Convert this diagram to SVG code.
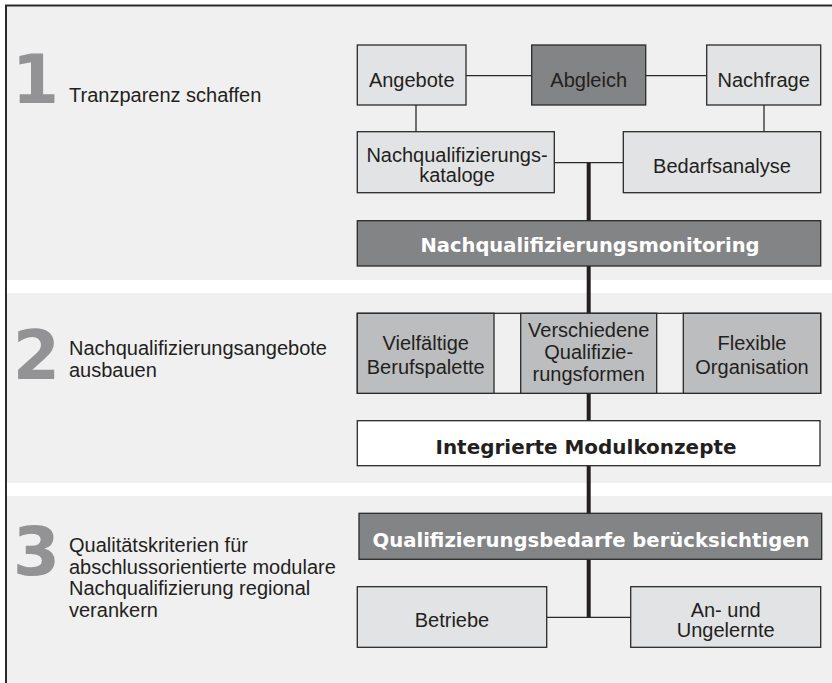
<svg xmlns="http://www.w3.org/2000/svg" width="832" height="683" viewBox="0 0 832 683">
<style>
.bg{fill:#f0f0f0}
.lt{fill:#e2e3e4;stroke:#2a2a2a;stroke-width:1.3}
.md{fill:#bcbdbf;stroke:#2a2a2a;stroke-width:1.3}
.dk{fill:#838486;stroke:#2a2a2a;stroke-width:1.3}
.wh{fill:#ffffff;stroke:#2a2a2a;stroke-width:1.3}
.t{font-family:"Liberation Sans",Arial,sans-serif;font-size:20px;fill:#231f20}
.c{text-anchor:middle}
.b{font-family:"DejaVu Sans",sans-serif;font-weight:bold;font-size:19.5px;text-anchor:middle}
.num{font-family:"DejaVu Sans",sans-serif;font-weight:bold;font-size:68px;fill:#939395;text-anchor:end}
.thin{stroke:#2a2a2a;stroke-width:1.3;fill:none}
.thick{stroke:#231f20;stroke-width:4;fill:none}
</style>
<rect x="0" y="0" width="832" height="683" fill="#ffffff"/>
<rect class="bg" x="6" y="6" width="830" height="274"/>
<rect class="bg" x="6" y="293" width="830" height="190"/>
<rect class="bg" x="6" y="496" width="830" height="190"/>
<path d="M6 690 V5.5 H840" fill="none" stroke="#2a2a2a" stroke-width="2"/>

<g id="labels">
<g id="step1">
<text class="num" x="59" y="103">1</text>
<text class="t" x="69" y="102">Tranzparenz schaffen</text>
</g>
<g id="step2">
<text class="num" x="60" y="379">2</text>
<text class="t" x="69" y="355">Nachqualifizierungsangebote</text>
<text class="t" x="69" y="376.5">ausbauen</text>
</g>
<g id="step3">
<text class="num" x="60" y="575">3</text>
<text class="t" x="69" y="552">Qualitätskriterien für</text>
<text class="t" x="69" y="573.5">abschlussorientierte modulare</text>
<text class="t" x="69" y="595">Nachqualifizierung regional</text>
<text class="t" x="69" y="616.5">verankern</text>
</g>
</g>

<g id="connectors">
<line class="thin" x1="466" y1="75.7" x2="531.7" y2="75.7"/>
<line class="thin" x1="645.7" y1="75.7" x2="706.7" y2="75.7"/>
<line class="thin" x1="416" y1="105" x2="416" y2="131.7"/>
<line class="thin" x1="764" y1="105" x2="764" y2="131.7"/>
<line class="thin" x1="554.3" y1="162.7" x2="623.3" y2="162.7"/>
<line class="thin" x1="546.7" y1="617.3" x2="630.7" y2="617.3"/>
<line class="thick" x1="588.7" y1="162.7" x2="588.7" y2="617.3"/>
</g>

<g id="angebote"><rect class="lt" x="357.3" y="45" width="108.7" height="60"/><text class="t c" x="411.7" y="86.7">Angebote</text></g>
<g id="abgleich"><rect class="dk" x="531.7" y="45" width="114" height="60"/><text class="t c" x="588.7" y="86.7">Abgleich</text></g>
<g id="nachfrage"><rect class="lt" x="706.7" y="45" width="114" height="60"/><text class="t c" x="763.7" y="86.7">Nachfrage</text></g>
<g id="kataloge"><rect class="lt" x="357.3" y="131.7" width="197" height="61"/><text class="t c" x="457" y="161.7">Nachqualifizierungs-</text><text class="t c" x="457" y="181.7">kataloge</text></g>
<g id="bedarfsanalyse"><rect class="lt" x="623.3" y="131.7" width="197.4" height="61"/><text class="t c" x="722" y="172.7">Bedarfsanalyse</text></g>
<g id="monitoring"><rect class="dk" x="357.3" y="220.7" width="463.4" height="45.3"/><text class="b" x="590" y="251.5" fill="#ffffff" textLength="339" lengthAdjust="spacingAndGlyphs">Nachqualifizierungsmonitoring</text></g>

<g id="row2">
<rect class="bg" x="357.3" y="313.3" width="463.4" height="80" stroke="#2a2a2a" stroke-width="1.3"/>
<line class="thick" x1="588.7" y1="313.3" x2="588.7" y2="393.3"/>
</g>
<g id="vielfaeltige"><rect class="md" x="357.3" y="313.3" width="136.7" height="80"/><text class="t c" x="425.7" y="350">Vielfältige</text><text class="t c" x="425.7" y="374">Berufspalette</text></g>
<g id="verschiedene"><rect class="md" x="520.7" y="313.3" width="136" height="80"/><text class="t c" x="588.7" y="337">Verschiedene</text><text class="t c" x="588.7" y="359">Qualifizie-</text><text class="t c" x="588.7" y="380.5">rungsformen</text></g>
<g id="flexible"><rect class="md" x="683.3" y="313.3" width="137.4" height="80"/><text class="t c" x="752" y="350">Flexible</text><text class="t c" x="752" y="374">Organisation</text></g>
<g id="modulkonzepte"><rect class="wh" x="357.3" y="420.7" width="462.7" height="45"/><text class="b" x="586" y="454" fill="#231f20" textLength="301" lengthAdjust="spacingAndGlyphs">Integrierte Modulkonzepte</text></g>
<g id="bedarfe"><rect class="dk" x="359" y="513.3" width="462.7" height="46"/><text class="b" x="591" y="547.3" fill="#ffffff" textLength="437" lengthAdjust="spacingAndGlyphs">Qualifizierungsbedarfe berücksichtigen</text></g>
<g id="betriebe"><rect class="lt" x="357.3" y="586.7" width="189.4" height="60.6"/><text class="t c" x="452" y="626.7">Betriebe</text></g>
<g id="ungelernte"><rect class="lt" x="630.7" y="586.7" width="190" height="60.6"/><text class="t c" x="725.7" y="616.7">An- und</text><text class="t c" x="725.7" y="637.3">Ungelernte</text></g>
</svg>
